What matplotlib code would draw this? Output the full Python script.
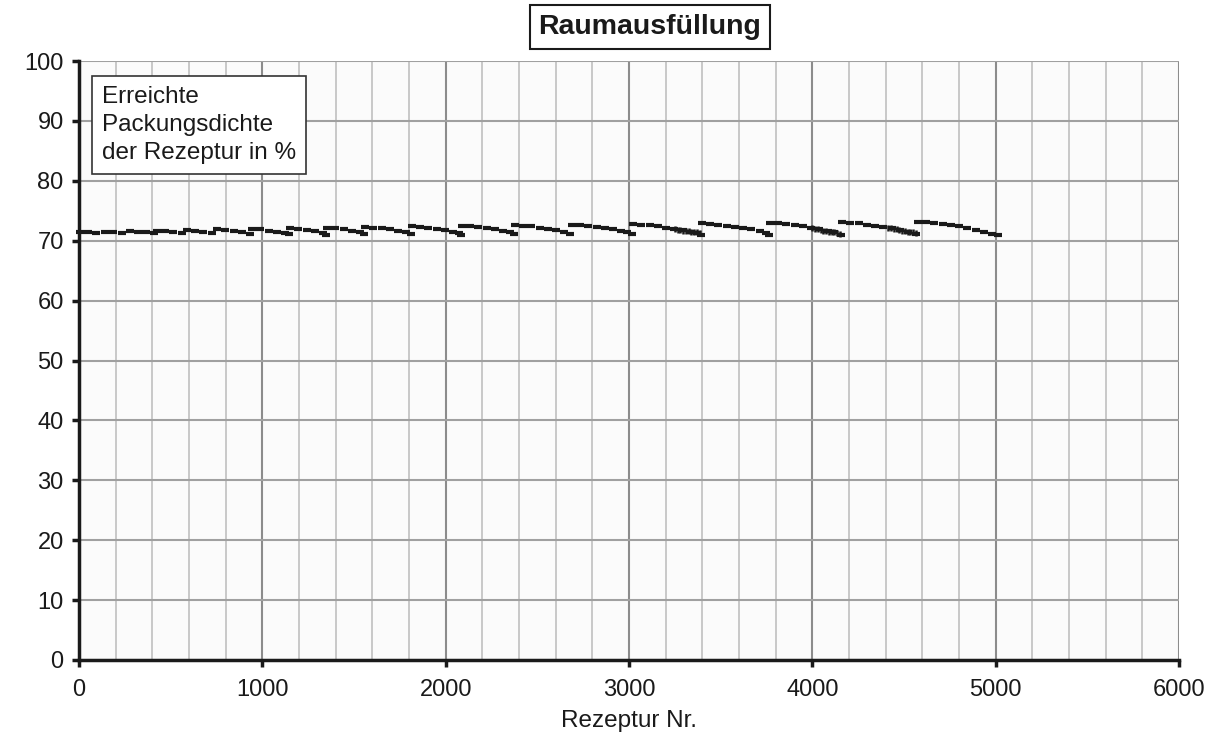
import matplotlib
matplotlib.use("Agg")
import matplotlib.pyplot as plt
from matplotlib.ticker import MultipleLocator

plt.rcParams['font.family'] = ['Liberation Sans', 'DejaVu Sans']

# Data (recipe number, achieved packing density %)
rez_nr = [5, 50, 95,
          142, 187, 232,
          278, 323, 368, 410,
          425, 470, 515, 560,
          589, 634, 679, 724,
          753, 798, 843, 888, 930,
          944, 989, 1034, 1079, 1124, 1145,
          1151, 1196, 1241, 1286, 1331, 1348,
          1353, 1398, 1443, 1488, 1533, 1555,
          1560, 1605, 1650, 1695, 1740, 1785, 1810,
          1816, 1861, 1906, 1951, 1996, 2041, 2070, 2085,
          2089, 2134, 2179, 2224, 2269, 2314, 2350, 2372,
          2378, 2423, 2468, 2513, 2558, 2603, 2648, 2680,
          2689, 2734, 2779, 2824, 2869, 2914, 2959, 2990, 3015,
          3022, 3067, 3112, 3157, 3202, 3247, 3292, 3337, 3370, 3392,
          3398, 3443, 3488, 3533, 3578, 3623, 3668, 3713, 3745, 3765,
          3769, 3814, 3859, 3904, 3949, 3994, 4039, 4084, 4120, 4155,
          4162, 4207, 4252, 4297, 4342, 4387, 4432, 4477, 4522, 4567,
          4576, 4621, 4666, 4711, 4756, 4801, 4846, 4891, 4936, 4981, 5013]
dichte = [71.4, 71.4, 71.3,
          71.5, 71.4, 71.3,
          71.6, 71.5, 71.4, 71.3,
          71.7, 71.6, 71.5, 71.3,
          71.8, 71.7, 71.5, 71.3,
          71.9, 71.8, 71.6, 71.4, 71.2,
          72.0, 71.9, 71.7, 71.5, 71.3, 71.1,
          72.1, 72.0, 71.8, 71.6, 71.3, 71.0,
          72.2, 72.1, 71.9, 71.7, 71.4, 71.1,
          72.3, 72.2, 72.1, 71.9, 71.7, 71.4, 71.1,
          72.4, 72.3, 72.2, 72.0, 71.8, 71.5, 71.3, 71.0,
          72.5, 72.4, 72.3, 72.1, 71.9, 71.7, 71.4, 71.1,
          72.6, 72.5, 72.4, 72.2, 72.0, 71.8, 71.5, 71.1,
          72.7, 72.6, 72.5, 72.3, 72.1, 71.9, 71.7, 71.4, 71.1,
          72.8, 72.7, 72.6, 72.4, 72.2, 72.0, 71.8, 71.5, 71.3, 71.0,
          72.9, 72.8, 72.7, 72.5, 72.3, 72.1, 71.9, 71.6, 71.3, 71.0,
          73.0, 72.9, 72.8, 72.6, 72.4, 72.2, 72.0, 71.7, 71.4, 71.0,
          73.1, 73.0, 72.9, 72.7, 72.5, 72.3, 72.1, 71.8, 71.5, 71.1,
          73.2, 73.1, 73.0, 72.8, 72.6, 72.4, 72.1, 71.8, 71.5, 71.2, 70.9]

# dense stacked points at the ends of the later segments
rez_nr_dicht = [3250, 3265, 3280, 3295, 3310, 3325, 3340, 3355, 3370, 3385,
                4000, 4015, 4030, 4045, 4060, 4075, 4090, 4105, 4120, 4135, 4150,
                4415, 4430, 4445, 4460, 4475, 4490, 4505, 4520, 4535, 4550, 4565]
dichte_dicht = [71.9, 71.8, 71.8, 71.7, 71.6, 71.6, 71.5, 71.4, 71.4, 71.3,
                72.1, 72.0, 71.9, 71.8, 71.7, 71.6, 71.5, 71.4, 71.4, 71.3, 71.2,
                72.2, 72.1, 72.0, 71.9, 71.8, 71.7, 71.6, 71.5, 71.4, 71.4, 71.3]

x_ticks = [0, 1000, 2000, 3000, 4000, 5000, 6000]
y_ticks = [0, 10, 20, 30, 40, 50, 60, 70, 80, 90, 100]

fig = plt.figure(figsize=(12.05, 7.37), dpi=100)
fig.patch.set_facecolor('white')
ax = fig.add_axes([79/1205, 77/737, 1100/1205, 599/737])
ax.set_facecolor('#fbfbfb')

ax.set_xlim(0, 6000)
ax.set_ylim(0, 100)
ax.set_xticks(x_ticks)
ax.set_yticks(y_ticks)
ax.xaxis.set_minor_locator(MultipleLocator(200))

ax.grid(which='minor', axis='x', color='#c4c4c4', lw=1.3)
ax.grid(which='major', axis='x', color='#8c8c8c', lw=1.5)
ax.grid(which='major', axis='y', color='#a0a0a0', lw=1.5)
ax.set_axisbelow(True)

for s in ['top', 'right']:
    ax.spines[s].set_visible(False)
for s in ['left', 'bottom']:
    ax.spines[s].set_linewidth(2.5)
    ax.spines[s].set_color('#1a1a1a')

ax.tick_params(axis='both', which='major', direction='out', length=5, width=2.5,
               color='#1a1a1a', labelsize=17, labelcolor='#1a1a1a')
ax.tick_params(axis='x', which='minor', length=0)
ax.tick_params(axis='y', pad=6)
ax.tick_params(axis='x', pad=9)

ax.plot(rez_nr, dichte, linestyle='none', marker='_', markersize=6,
        markeredgewidth=3, color='#1a1a1a', clip_on=False)
ax.plot(rez_nr_dicht, dichte_dicht, linestyle='none', marker='|', markersize=4.5,
        markeredgewidth=1.8, color='#1a1a1a')

ax.set_xlabel('Rezeptur Nr.', fontsize=17.5, color='#1a1a1a', labelpad=6)

ax.text(0.021, 0.958, 'Erreichte\nPackungsdichte\nder Rezeptur in %',
        transform=ax.transAxes, ha='left', va='top', fontsize=17.5,
        color='#1a1a1a', linespacing=1.36,
        bbox=dict(boxstyle='square,pad=0.4', facecolor='white',
                  edgecolor='#333333', linewidth=1.2))

fig.text(650/1205, 1 - 27/737, 'Raumausfüllung', ha='center', va='center',
         fontsize=20.5, fontweight='bold', color='#1a1a1a',
         bbox=dict(boxstyle='square,pad=0.3', facecolor='white',
                   edgecolor='#1a1a1a', linewidth=1.5))

fig.savefig('out.png', dpi=100)
